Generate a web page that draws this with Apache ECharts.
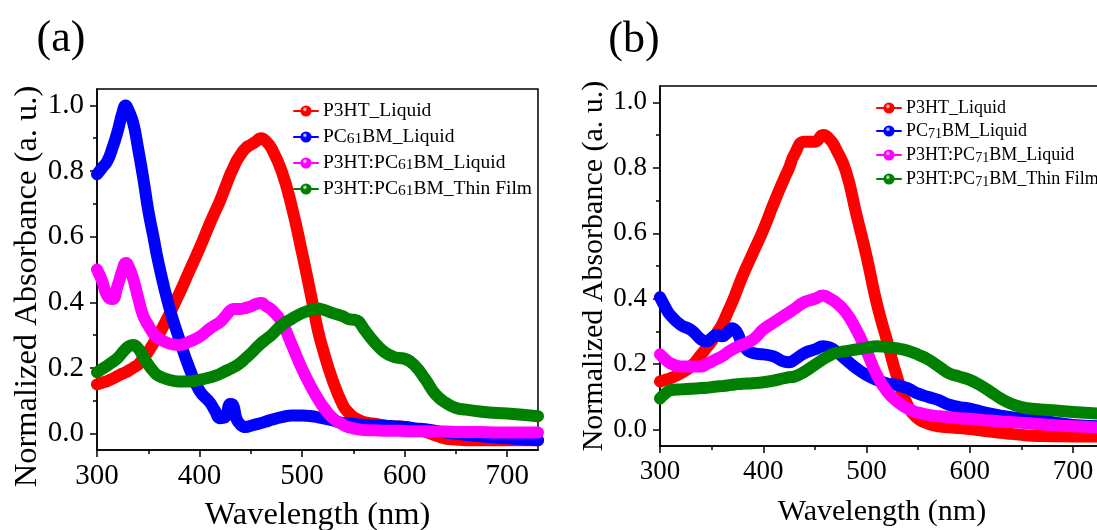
<!DOCTYPE html>
<html>
<head>
<meta charset="utf-8">
<title>UV-Vis absorbance spectra</title>
<script src="https://cdn.jsdelivr.net/npm/echarts@6/dist/echarts.min.js"></script>
<style>
  html, body { margin: 0; padding: 0; background: #fff; }
  #chart { width: 1097px; height: 530px; }
</style>
</head>
<body>
<div id="chart"></div>
<script>
// ---- Panel (a): P3HT / PC61BM ----
const wavelengthA = [300,305,310,315,320,325,328,330,335,340,345,350,355,360,370,380,390,400,410,415,
  420,425,430,433,436,440,445,450,455,460,465,470,480,490,500,510,515,520,530,540,
  545,550,555,560,570,580,590,600,610,620,630,640,650,660,680,700,730];
const p3htLiquidA = [0.15,0.155,0.16,0.167,0.175,0.183,0.187,0.19,0.2,0.21,0.228,0.25,0.275,0.30,0.36,0.425,0.495,0.565,0.64,0.675,
  0.71,0.75,0.79,0.81,0.83,0.85,0.87,0.88,0.89,0.90,0.89,0.87,0.80,0.69,0.55,0.40,0.32,0.26,0.16,0.085,
  0.065,0.05,0.042,0.035,0.03,0.025,0.022,0.02,0.013,0.006,-0.005,-0.015,-0.018,-0.02,-0.02,-0.02,-0.02];
const pc61bmLiquid = [0.79,0.81,0.83,0.87,0.92,0.98,1.0,0.99,0.95,0.87,0.78,0.68,0.60,0.52,0.39,0.29,0.20,0.13,0.095,0.07,
  0.047,0.05,0.09,0.085,0.045,0.027,0.02,0.024,0.028,0.032,0.037,0.042,0.05,0.055,0.055,0.053,0.05,0.047,0.04,0.032,
  0.031,0.03,0.028,0.027,0.025,0.024,0.022,0.02,0.016,0.013,0.008,0.003,0.0,-0.004,-0.01,-0.014,-0.02];
const blend61Liquid = [0.50,0.465,0.42,0.41,0.45,0.50,0.52,0.515,0.475,0.415,0.36,0.33,0.305,0.29,0.275,0.27,0.28,0.295,0.32,0.33,
  0.34,0.357,0.375,0.38,0.38,0.38,0.383,0.388,0.395,0.398,0.388,0.378,0.34,0.27,0.197,0.135,0.108,0.084,0.047,0.027,
  0.02,0.016,0.013,0.011,0.01,0.009,0.009,0.008,0.007,0.007,0.006,0.006,0.005,0.005,0.004,0.003,0.003];
const blend61Film = [0.187,0.197,0.207,0.218,0.23,0.248,0.258,0.264,0.27,0.26,0.235,0.21,0.19,0.176,0.164,0.159,0.159,0.164,0.171,0.176,
  0.182,0.19,0.197,0.202,0.207,0.216,0.23,0.244,0.26,0.275,0.288,0.30,0.33,0.35,0.367,0.378,0.381,0.378,0.367,0.357,
  0.349,0.347,0.342,0.32,0.28,0.249,0.233,0.228,0.207,0.166,0.12,0.094,0.078,0.073,0.065,0.061,0.053];

// ---- Panel (b): P3HT / PC71BM ----
const wavelengthB = [300,305,310,320,330,340,345,350,355,360,365,370,375,380,390,400,410,420,425,430,
  440,450,458,465,470,480,490,500,510,520,530,540,550,560,570,580,590,600,610,620,
  630,640,650,660,680,700,730];
const p3htLiquidB = [0.147,0.152,0.157,0.172,0.193,0.23,0.25,0.27,0.295,0.32,0.355,0.39,0.43,0.47,0.54,0.61,0.69,0.765,0.80,0.84,
  0.88,0.88,0.90,0.885,0.86,0.79,0.66,0.53,0.385,0.27,0.157,0.074,0.033,0.018,0.01,0.007,0.005,0.002,-0.002,-0.006,
  -0.01,-0.013,-0.016,-0.019,-0.02,-0.021,-0.021];
const pc71bmLiquid = [0.405,0.375,0.35,0.32,0.305,0.275,0.27,0.28,0.29,0.285,0.295,0.31,0.295,0.26,0.234,0.23,0.224,0.208,0.206,0.213,
  0.234,0.245,0.255,0.25,0.24,0.214,0.188,0.167,0.152,0.141,0.136,0.126,0.11,0.10,0.09,0.076,0.069,0.064,0.056,0.049,
  0.043,0.038,0.034,0.031,0.023,0.014,0.01];
const blend71Liquid = [0.23,0.215,0.203,0.193,0.193,0.193,0.2,0.208,0.216,0.224,0.235,0.245,0.253,0.26,0.275,0.306,0.327,0.348,0.358,0.369,
  0.39,0.40,0.41,0.40,0.39,0.358,0.306,0.24,0.167,0.116,0.085,0.064,0.052,0.045,0.041,0.038,0.035,0.033,0.03,0.028,
  0.025,0.023,0.021,0.019,0.014,0.01,0.006];
const blend71Film = [0.095,0.11,0.12,0.123,0.125,0.127,0.128,0.13,0.132,0.133,0.135,0.137,0.139,0.14,0.142,0.145,0.15,0.157,0.16,0.162,
  0.177,0.198,0.215,0.228,0.234,0.24,0.245,0.25,0.255,0.252,0.248,0.241,0.229,0.214,0.193,0.172,0.162,0.152,0.136,0.116,
  0.095,0.079,0.069,0.064,0.059,0.054,0.048];

const namesA = ['P3HT_Liquid', 'PC61BM_Liquid', 'P3HT:PC61BM_Liquid', 'P3HT:PC61BM_Thin Film'];
const namesB = ['P3HT_Liquid', 'PC71BM_Liquid', 'P3HT:PC71BM_Liquid', 'P3HT:PC71BM_Thin Film'];
const colors = ['#ff0000', '#0000ff', '#ff00ff', '#008000'];

const xMajorTicks = [300, 400, 500, 600, 700];
const xMinorTicks = [350, 450, 550, 650];
const yMajorTicks = [0, 0.2, 0.4, 0.6, 0.8, 1.0];
const yMinorTicks = [0.1, 0.3, 0.5, 0.7, 0.9];

const SERIF = '"Liberation Serif", "Times New Roman", serif';

// plot boxes (pixels)
const boxA = { left: 97, top: 89, width: 441, height: 361 };
const boxB = { left: 660, top: 86, width: 444, height: 360 };

function pairs(xs, ys) { return xs.map((x, i) => [x, ys[i]]); }

// glossy ball used in the legend markers
function ball(c) {
  return {
    type: 'radial', x: 0.4, y: 0.35, r: 0.65,
    colorStops: [{ offset: 0, color: '#ffffff' }, { offset: 0.35, color: c }, { offset: 1, color: c }]
  };
}

// "PC61BM" -> PC with subscript 61
function richName(name) {
  const m = name.match(/^(.*PC)(\d\d)(.*)$/);
  if (!m) return '{n|' + name + '}';
  return '{n|' + m[1] + '}{s|' + m[2] + '}{n|' + m[3] + '}';
}

function makeLegend(names, left, top, fs, gap) {
  return {
    orient: 'vertical', left: left, top: top, padding: 0,
    itemWidth: 24, itemHeight: 14, itemGap: gap,
    lineStyle: { width: 2 },
    data: names.map((n, i) => ({ name: n, itemStyle: { color: ball(colors[i]), borderWidth: 0 } })),
    formatter: richName,
    textStyle: {
      color: '#000',
      rich: {
        n: { fontFamily: SERIF, fontSize: fs, color: '#000', lineHeight: 20 },
        s: { fontFamily: SERIF, fontSize: fs - 4, color: '#000', lineHeight: 10, verticalAlign: 'bottom' }
      }
    }
  };
}

const tickLine = { color: '#000', width: 1.5 };

function mainX(grid, fs, tfs, gap) {
  return {
    type: 'value', gridIndex: grid, min: 300, max: 730, position: 'bottom',
    name: 'Wavelength (nm)', nameLocation: 'middle', nameGap: gap,
    nameTextStyle: { fontFamily: SERIF, fontSize: tfs, color: '#000' },
    axisLine: { show: true, onZero: false, lineStyle: { color: '#000', width: 1.5 } },
    axisTick: { show: true, inside: false, length: 7, customValues: xMajorTicks, lineStyle: tickLine },
    axisLabel: { customValues: xMajorTicks, fontFamily: SERIF, fontSize: fs, color: '#000', margin: 12 },
    splitLine: { show: false }
  };
}
// second x axis of a grid sits on top; shift it down onto the bottom edge for the short ticks
function minorX(grid, box) {
  return {
    type: 'value', gridIndex: grid, min: 300, max: 730, position: 'top', offset: -box.height,
    axisLine: { show: false, onZero: false },
    axisTick: { show: true, inside: true, length: 4, customValues: xMinorTicks, lineStyle: tickLine },
    axisLabel: { show: false }, splitLine: { show: false }
  };
}
function mainY(grid, fs, tfs, gap, pad) {
  return {
    type: 'value', gridIndex: grid, min: -0.05, max: 1.05, position: 'left',
    name: 'Normalized Absorbance (a. u.)', nameLocation: 'middle', nameGap: gap,
    nameTextStyle: { fontFamily: SERIF, fontSize: tfs, color: '#000', padding: pad },
    axisLine: { show: true, onZero: false, lineStyle: { color: '#000', width: 1.5 } },
    axisTick: { show: true, inside: false, length: 7, customValues: yMajorTicks, lineStyle: tickLine },
    axisLabel: { customValues: yMajorTicks, formatter: v => v.toFixed(1), fontFamily: SERIF, fontSize: fs, color: '#000', margin: 13 },
    splitLine: { show: false }
  };
}
// second y axis of a grid sits on the right; shift it onto the left edge
function minorY(grid, box) {
  return {
    type: 'value', gridIndex: grid, min: -0.05, max: 1.05, position: 'right', offset: -box.width,
    axisLine: { show: false, onZero: false },
    axisTick: { show: true, inside: true, length: 4, customValues: yMinorTicks, lineStyle: tickLine },
    axisLabel: { show: false }, splitLine: { show: false }
  };
}

function curve(name, xs, ys, color, axisIdx) {
  return {
    type: 'line', name: name, xAxisIndex: axisIdx, yAxisIndex: axisIdx,
    data: pairs(xs, ys), symbol: 'none', smooth: 0.5,
    lineStyle: { color: color, width: 12, cap: 'round', join: 'round' },
    itemStyle: { color: color },
    emphasis: { disabled: true }
  };
}

const gridStyle = { show: true, borderColor: '#000', borderWidth: 1.5, containLabel: false, outerBoundsMode: 'none' };

const chart = echarts.init(document.getElementById('chart'), null, { renderer: 'canvas' });
chart.setOption({
  animation: false,
  backgroundColor: '#fff',
  grid: [Object.assign({}, boxA, gridStyle), Object.assign({}, boxB, gridStyle)],
  xAxis: [mainX(0, 29, 32.5, 49), minorX(0, boxA), mainX(1, 27, 30, 51), minorX(1, boxB)],
  yAxis: [mainY(0, 29, 32.5, 50, [0, 34, 0, 0]), minorY(0, boxA), mainY(1, 27, 30, 46, [0, 0, 0, 0]), minorY(1, boxB)],
  legend: [makeLegend(namesA, 293, 101, 19.5, 6), makeLegend(namesB, 876, 99, 18, 5)],
  graphic: [
    { type: 'text', x: 61, y: 39, style: { text: '(a)', font: '44px ' + SERIF, fill: '#000', align: 'center', verticalAlign: 'middle' } },
    { type: 'text', x: 634, y: 40, style: { text: '(b)', font: '44px ' + SERIF, fill: '#000', align: 'center', verticalAlign: 'middle' } }
  ],
  series: [
    curve(namesA[0], wavelengthA, p3htLiquidA, colors[0], 0),
    curve(namesA[1], wavelengthA, pc61bmLiquid, colors[1], 0),
    curve(namesA[2], wavelengthA, blend61Liquid, colors[2], 0),
    curve(namesA[3], wavelengthA, blend61Film, colors[3], 0),
    curve(namesB[0], wavelengthB, p3htLiquidB, colors[0], 2),
    curve(namesB[1], wavelengthB, pc71bmLiquid, colors[1], 2),
    curve(namesB[2], wavelengthB, blend71Liquid, colors[2], 2),
    curve(namesB[3], wavelengthB, blend71Film, colors[3], 2)
  ]
});
</script>
</body>
</html>
